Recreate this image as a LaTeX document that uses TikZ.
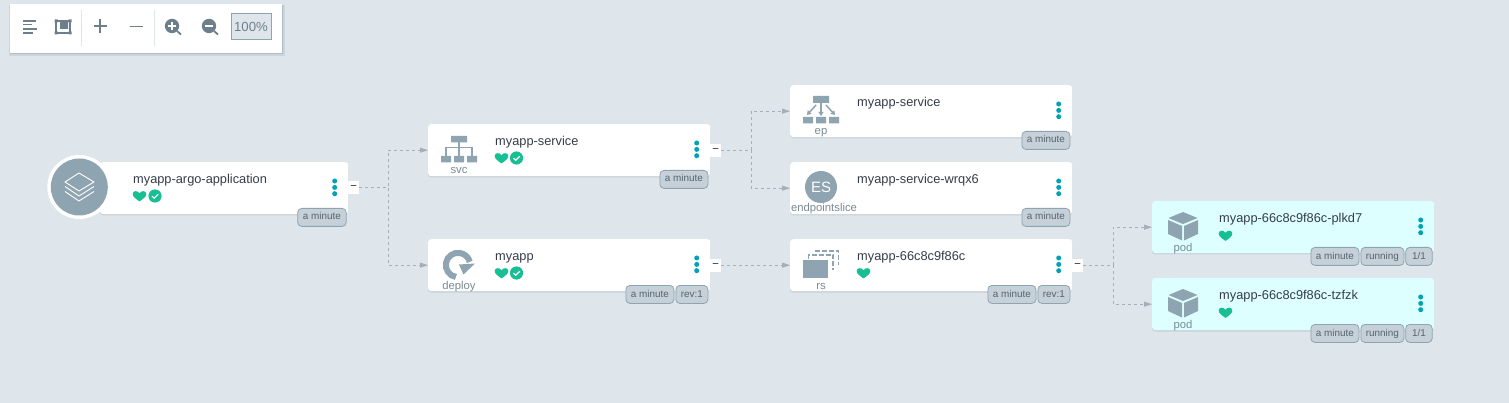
\documentclass[tikz,border=0pt]{standalone}
\usepackage{fontspec}
\setmainfont{Liberation Sans}
\usetikzlibrary{arrows.meta,calc}
\definecolor{bgc}{HTML}{DEE6EB}
\definecolor{icong}{HTML}{8FA4B1}
\definecolor{toolg}{HTML}{6D7F8B}
\definecolor{namec}{HTML}{363C4A}
\definecolor{kindc}{HTML}{7A8B97}
\definecolor{shadowc}{HTML}{C9D2D9}
\definecolor{podc}{HTML}{DDFFFF}
\definecolor{healthc}{HTML}{18BE94}
\definecolor{dotc}{HTML}{00A2B3}
\definecolor{tagf}{HTML}{C5D0D8}
\definecolor{tagt}{HTML}{56646F}
\definecolor{linkc}{HTML}{A8AEB5}
\tikzset{
  cardbox/.style={anchor=north west,minimum width=282pt,minimum height=52pt,inner sep=0pt,rounded corners=3pt,fill=white},
  titletext/.style={anchor=base west,inner sep=0pt,text=namec,font=\fontsize{12.8}{14}\selectfont},
  kindtext/.style={anchor=base,inner sep=0pt,text=kindc,font=\fontsize{11.3}{12}\selectfont},
  tagbox/.style={anchor=north west,minimum height=18pt,inner sep=0pt,text height=7.2pt,text depth=2pt,rounded corners=4pt,fill=tagf,draw=icong,line width=0.8pt,text=tagt,font=\fontsize{9.9}{11}\selectfont},
  expandbox/.style={anchor=north west,minimum width=11pt,minimum height=13pt,inner sep=0pt,fill=white,text=black,font=\fontsize{10}{11}\selectfont},
  link/.style={draw=linkc,line width=0.8pt,dash pattern=on 3pt off 3pt,-{Triangle[length=8pt,width=5pt,fill=linkc]}},
  toolicon/.style={draw=toolg,line width=1.8pt},
}
% name, x, y, width, fill, title
\newcommand{\cardx}[6]{%
  \fill[shadowc,rounded corners=3pt] (#2,#3+1.5) rectangle ++(#4,52);
  \node[cardbox,minimum width=#4 pt,fill=#5] (#1) at (#2,#3) {};
  \node[titletext] (#1t) at (#2+#4-215,#3+21.5) {#6};
  \fill[dotc] (#2+#4-13.3,#3+19) circle (2.5) (#2+#4-13.3,#3+25.4) circle (2.5) (#2+#4-13.3,#3+31.7) circle (2.5);
}
\newcommand{\heartx}[2]{%
  \fill[healthc] (#1,#2+5.4) .. controls (#1-3.5,#2+3) and (#1-6.8,#2+0.8) .. (#1-6.8,#2-2)
    .. controls (#1-6.8,#2-5.2) and (#1-2.2,#2-6) .. (#1,#2-2.8)
    .. controls (#1+2.2,#2-6) and (#1+6.8,#2-5.2) .. (#1+6.8,#2-2)
    .. controls (#1+6.8,#2+0.8) and (#1+3.5,#2+3) .. (#1,#2+5.4) -- cycle;
}
\newcommand{\checkx}[2]{%
  \fill[healthc] (#1,#2) circle (6.6);
  \draw[white,line width=1.2pt] (#1-3,#2+0.2) -- (#1-0.8,#2+2.2) -- (#1+3.2,#2-1.8);
}
\newcommand{\tagx}[5]{\node[tagbox,minimum width=#3 pt] (#1) at (#2,#4) {#5};}
\begin{document}
\begin{tikzpicture}[x=1pt,y=-1pt]
\useasboundingbox (0,0) rectangle (1509,403);
\fill[bgc] (0,0) rectangle (1509,403);

% toolbar
\fill[icong,opacity=.25] (9,5) rectangle (285,56);
\fill[icong,opacity=.45] (10,5) rectangle (283,54.5);
\fill[white] (10,4) rectangle (282,53);
\draw[bgc,line width=1pt] (81.5,10) -- (81.5,46) (154.5,10) -- (154.5,46);
\draw[toolg,line width=1.4pt] (23,21) -- (36,21) (23,24.7) -- (32,24.7) (23,29) -- (37,29) (23,33) -- (33,33);
\draw[toolg,line width=1.6pt] (56,21) rectangle (70,33);
\fill[toolg] (54.5,19.5) rectangle ++(3,3) (68.5,19.5) rectangle ++(3,3) (54.5,31.5) rectangle ++(3,3) (68.5,31.5) rectangle ++(3,3) (60,22) rectangle (68,29);
\draw[toolicon] (100,19.5) -- (100,33) (93.5,26) -- (106.5,26) (129.5,26.5) -- (142.5,26.5);
\fill[toolg] (172,26) circle (7.2) (209,26) circle (7.2);
\draw[toolg,line width=1.8pt] (177,31) -- (181,34.5) (214,31) -- (218,34.5);
\draw[white,line width=1.5pt] (168,26) -- (176,26) (172,22) -- (172,30) (205,26) -- (213,26);
\node[draw=icong,fill=bgc,line width=1pt,minimum width=40pt,minimum height=26pt,inner sep=0pt,text=toolg,font=\fontsize{13.2}{14}\selectfont] (zoomval) at (251,27) {100\%};

% cards
\cardx{app}{100}{162}{248}{white}{myapp-argo-application}
\cardx{svc}{428}{124}{282}{white}{myapp-service}
\cardx{dep}{428}{239}{282}{white}{myapp}
\cardx{ep}{790}{85}{282}{white}{myapp-service}
\cardx{es}{790}{162}{282}{white}{myapp-service-wrqx6}
\cardx{rs}{790}{239}{282}{white}{myapp-66c8c9f86c}
\cardx{poda}{1152}{201}{282}{podc}{myapp-66c8c9f86c-plkd7}
\cardx{podb}{1152}{278}{282}{podc}{myapp-66c8c9f86c-tzfzk}

% expanders
\node[expandbox] (xapp) at (348,180.5) {–};
\node[expandbox] (xsvc) at (710,143.5) {–};
\node[expandbox] (xdep) at (710,258.5) {–};
\node[expandbox] (xrs) at (1072,258.5) {–};

% connectors
\draw[link] (xapp.east) -- ++(29,0) |- (svc.west);
\draw[link] (xapp.east) -- ++(29,0) |- (dep.west);
\draw[link] (xsvc.east) -- ++(30,0) |- (ep.west);
\draw[link] (xsvc.east) -- ++(30,0) |- (es.west);
\draw[link] (xdep.east) -- (rs.west);
\draw[link] (xrs.east) -- ++(30,0) |- (poda.west);
\draw[link] (xrs.east) -- ++(30,0) |- (podb.west);

% app icon
\fill[white] (79.3,187) circle (32);
\fill[icong] (79.3,187) circle (28.5);
\draw[white,line width=.9pt,line join=round] (79,173) -- (94,182) -- (79,191) -- (65,182) -- cycle;
\draw[white,line width=.9pt,line join=round] (65,186.5) -- (79,196) -- (94,186.5);
\draw[white,line width=.9pt,line join=round] (65,191.5) -- (79,201) -- (94,191.5);

% svc icon
\fill[icong] (451,136) rectangle (467,142.5) (441,156) rectangle (451,162.5) (454,156) rectangle (464,162.5) (467,156) rectangle (477,162.5);
\draw[icong,line width=1.5pt] (459,142) -- (459,156) (446,156) -- (446,147.5) -- (472,147.5) -- (472,156);
\node[kindtext] (svck) at (459,174) {svc};

% deploy icon
\draw[icong,line width=6pt] (458,265) ++(100:12.2) arc (100:345:12.2);
\fill[icong] (459,264.5) -- (475,263.5) -- (463.5,274.5) -- cycle;
\node[kindtext] (depk) at (459,289) {deploy};

% ep icon
\fill[icong] (813,96) rectangle (829,103) (803,117) rectangle (813,123.5) (816,117) rectangle (826,123.5) (829,117) rectangle (839,123.5);
\draw[icong,line width=1.5pt,-{Triangle[length=4pt,width=5pt]}] (821,103) -- (821,116);
\draw[icong,line width=1.5pt,-{Triangle[length=4pt,width=5pt]}] (816,105) -- (807,115);
\draw[icong,line width=1.5pt,-{Triangle[length=4pt,width=5pt]}] (826,105) -- (835,115);
\node[kindtext] (epk) at (821,135) {ep};

% es icon
\fill[icong] (821,187) circle (16);
\node[inner sep=0pt,text=white,font=\fontsize{15}{16}\selectfont] (esi) at (821,187) {ES};
\node[kindtext] (esk) at (824,212) {endpointslice};

% rs icon
\draw[icong,line width=1.5pt,dash pattern=on 5pt off 2pt] (808.5,259) -- (808.5,255) -- (833,255) -- (833,270);
\draw[icong,line width=1.5pt,dash pattern=on 5pt off 2pt] (815,251) -- (838.5,251) -- (838.5,265);
\fill[icong] (803,260) rectangle (828,278);
\node[kindtext] (rsk) at (821,289) {rs};

% pod icons
\foreach \px/\py/\nm in {1183/212/kpa,1183/289/kpb}{
  \fill[icong] (\px,\py) -- (\px+14.5,\py+6) -- (\px,\py+12) -- (\px-14.5,\py+6) -- cycle;
  \fill[icong] (\px-15,\py+8) -- (\px-1,\py+14) -- (\px-1,\py+28.5) -- (\px-15,\py+22) -- cycle;
  \fill[icong] (\px+15,\py+8) -- (\px+1,\py+14) -- (\px+1,\py+28.5) -- (\px+15,\py+22) -- cycle;
  \node[kindtext] (\nm) at (\px,\py+39.5) {pod};
}

% health
\heartx{139.5}{196}\checkx{155}{196}
\heartx{501.5}{158}\checkx{516.5}{158}
\heartx{501.5}{273}\checkx{516.5}{273}
\heartx{863.5}{273}
\heartx{1225.5}{235.5}
\heartx{1225.5}{312.5}

% tags
\tagx{tapp}{297.3}{48.5}{208}{a minute}
\tagx{tsvc}{659.5}{48}{170}{a minute}
\tagx{tdepa}{625.5}{48}{285}{a minute}
\tagx{tdepb}{675.5}{32}{285}{rev:1}
\tagx{tep}{1021.5}{48}{131}{a minute}
\tagx{tes}{1021.5}{48}{208}{a minute}
\tagx{trsa}{987.5}{48}{285}{a minute}
\tagx{trsb}{1037.5}{32}{285}{rev:1}
\tagx{tpaa}{1310.5}{48}{247}{a minute}
\tagx{tpab}{1360.5}{43}{247}{running}
\tagx{tpac}{1405.3}{26.5}{247}{1/1}
\tagx{tpba}{1310.5}{48}{324}{a minute}
\tagx{tpbb}{1360.5}{43}{324}{running}
\tagx{tpbc}{1405.3}{26.5}{324}{1/1}
\end{tikzpicture}
\end{document}
